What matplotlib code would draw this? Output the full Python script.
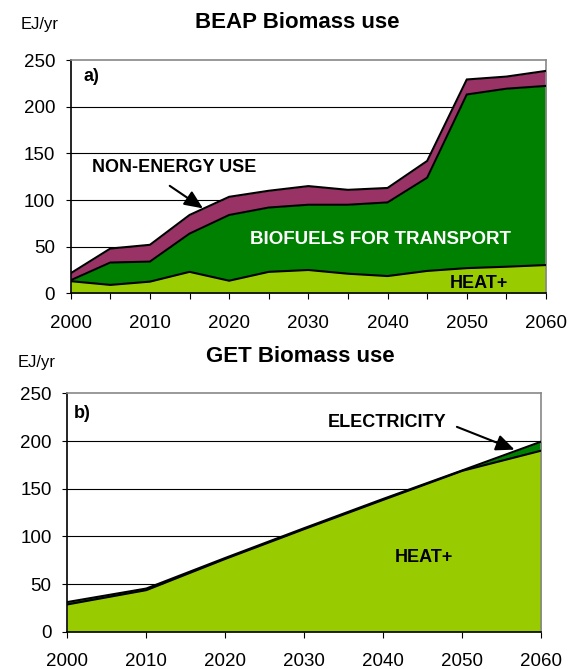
import matplotlib
matplotlib.use("Agg")
import matplotlib.pyplot as plt
import numpy as np

plt.rcParams['font.family'] = ['Liberation Sans', 'DejaVu Sans']

# panel a) BEAP
years_a = [2000, 2005, 2010, 2015, 2020, 2025, 2030, 2035, 2040, 2045, 2050, 2055, 2060]
heat_a = [13, 9, 12.5, 23, 13.5, 23, 25, 21, 18.5, 24, 27, 28.5, 30.3]
biofuels_a = [1, 24, 21.5, 41, 70.5, 69, 70, 74, 79, 100, 186.3, 191, 192.2]
nonenergy_a = [7.5, 15, 18, 20, 19.5, 18, 20, 16, 15.5, 18, 16.1, 13, 16.1]

# panel b) GET
years_b = [2000, 2010, 2020, 2030, 2040, 2050, 2060]
heat_b = [28.6, 43.6, 76.4, 107.7, 138.4, 168.8, 190]
electricity_b = [2.5, 1.7, 1, 1, 1, 0.5, 9.5]

yticks = [0, 50, 100, 150, 200, 250]

C_HEAT = "#99CC00"
C_BIO = "#008000"
C_NONE = "#993366"
EDGE = 1.5


def style_axes(ax, minor, xpad):
    ax.set_xlim(2000, 2060)
    ax.set_ylim(0, 250)
    ax.set_yticks(yticks)
    ax.set_xticks(range(2000, 2061, 10))
    if minor:
        ax.set_xticks(range(2005, 2060, 10), minor=True)
        ax.tick_params(axis="x", which="minor", direction="out", length=4.3, width=0.8)
    for y in yticks[1:-1]:
        ax.axhline(y, color="black", lw=0.8, zorder=0)
    ax.spines["top"].set_color("#888888")
    ax.spines["right"].set_color("#888888")
    ax.spines["left"].set_color("black")
    ax.spines["bottom"].set_color("black")
    for s in ax.spines.values():
        s.set_linewidth(1.2)
    ax.spines["top"].set_zorder(5)
    ax.tick_params(axis="y", direction="out", length=3.6, width=0.8, labelsize=13.5, pad=7.7)
    ax.tick_params(axis="x", which="major", direction="out", length=4.3, width=0.8, labelsize=13.5, pad=xpad)


def arrow(ax, start, tip):
    ax.annotate("", xy=tip, xytext=start,
                arrowprops=dict(arrowstyle="-|>,head_length=0.8,head_width=0.35",
                                mutation_scale=14, color="black", lw=1.5,
                                shrinkA=0, shrinkB=0), zorder=6)


fig = plt.figure(figsize=(5.74, 6.69), dpi=100)

# ---- top panel
ax1 = fig.add_axes([0.1232, 0.5616, 0.828, 0.3483])
h = np.array(heat_a)
b = h + np.array(biofuels_a)
t = b + np.array(nonenergy_a)
ax1.fill_between(years_a, 0, h, color=C_HEAT, lw=0, zorder=2)
ax1.fill_between(years_a, h, b, color=C_BIO, lw=0, zorder=2)
ax1.fill_between(years_a, b, t, color=C_NONE, lw=0, zorder=2)
for line in (h, b, t):
    ax1.plot(years_a, line, color="black", lw=EDGE, zorder=3, solid_joinstyle="miter")
style_axes(ax1, True, 11)

ax1.text(2001.6, 232.6, "a)", fontsize=13, fontweight="bold", va="center")
ax1.text(2002.65, 135, "NON-ENERGY USE", fontsize=13, fontweight="bold", va="center")
arrow(ax1, (2012.5, 115.3), (2016.7, 91.1))
ax1.text(2039.1, 57.9, "BIOFUELS FOR TRANSPORT", fontsize=13.5, fontweight="bold",
         color="white", ha="center", va="center", zorder=4)
ax1.text(2055.2, 10.7, "HEAT+", fontsize=13, fontweight="bold", ha="right", va="center", zorder=4)

fig.text(0.5174, 0.966, "BEAP Biomass use", fontsize=16, fontweight="bold", ha="center", va="center")
fig.text(0.0685, 0.964, "EJ/yr", fontsize=12, ha="center", va="center")

# ---- bottom panel
ax2 = fig.add_axes([0.1172, 0.05575, 0.8261, 0.3562])
hb = np.array(heat_b)
eb = hb + np.array(electricity_b)
ax2.fill_between(years_b, 0, hb, color=C_HEAT, lw=0, zorder=2)
ax2.fill_between(years_b, hb, eb, color=C_BIO, lw=0, zorder=2)
for line in (hb, eb):
    ax2.plot(years_b, line, color="black", lw=EDGE, zorder=3)
style_axes(ax2, False, 11)

ax2.text(2000.85, 229, "b)", fontsize=13, fontweight="bold", va="center")
ax2.text(2040.45, 219.3, "ELECTRICITY", fontsize=13, fontweight="bold", ha="center", va="center")
arrow(ax2, (2049.3, 214.9), (2056.6, 191))
ax2.text(2045.1, 77.6, "HEAT+", fontsize=13, fontweight="bold", ha="center", va="center", zorder=4)

fig.text(0.5235, 0.4668, "GET Biomass use", fontsize=16, fontweight="bold", ha="center", va="center")
fig.text(0.064, 0.4578, "EJ/yr", fontsize=12, ha="center", va="center")

fig.savefig("out.png", dpi=100)
